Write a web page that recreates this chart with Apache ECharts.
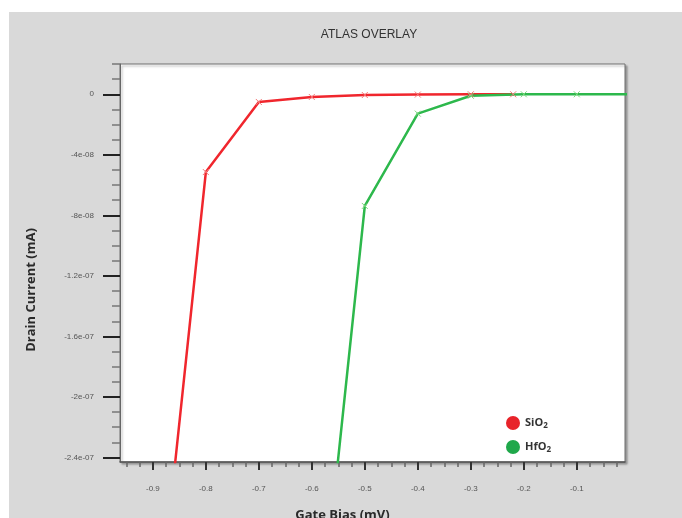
<!DOCTYPE html>
<html>
<head>
<meta charset="utf-8">
<script src="https://cdn.jsdelivr.net/npm/echarts@6/dist/echarts.min.js"></script>
<style>
  body { margin: 0; background: #fff; }
  #panel { position: absolute; left: 9px; top: 12px; right: 0; bottom: 0; background: #d9d9d9; }
  #chart { position: absolute; left: 0; top: 0; width: 682px; height: 518px; }
</style>
</head>
<body>
<div id="panel"></div>
<div id="chart"></div>
<script>
// gate bias (V) / drain current readings
const sio2Bias = [-0.9, -0.8, -0.7, -0.6, -0.5, -0.4, -0.3, -0.22]
const sio2Current = [-3.83e-7, -5.14e-8, -5.1e-9, -1.8e-9, -0.5e-9, -0.2e-9, 0, 0]
const hfo2Bias = [-0.6, -0.5, -0.4, -0.3, -0.2, -0.1, 0]
const hfo2Current = [-4.06e-7, -7.38e-8, -1.28e-8, -1.0e-9, 0, 0, 0]

// axis ticks
const xTickValues = [-0.9, -0.8, -0.7, -0.6, -0.5, -0.4, -0.3, -0.2, -0.1]
const xTickLabels = ['-0.9', '-0.8', '-0.7', '-0.6', '-0.5', '-0.4', '-0.3', '-0.2', '-0.1']
const yTickValues = [0, -4e-8, -8e-8, -1.2e-7, -1.6e-7, -2e-7, -2.4e-7]
const yTickLabels = ['0', '-4e-08', '-8e-08', '-1.2e-07', '-1.6e-07', '-2e-07', '-2.4e-07']

const X_MIN = -0.962, X_MAX = -0.009
const Y_MIN = -2.43e-7, Y_MAX = 2e-8

// minor ticks: every 0.025 on x, every 1e-8 on y
const xMinor = []
for (let i = -38; i <= 0; i++) xMinor.push(+(i * 0.025).toFixed(3))
const yMinor = []
for (let i = -24; i <= 2; i++) yMinor.push(i * 1e-8)

const labelFont = { fontFamily: 'Liberation Sans', fontSize: 8, color: '#555' }
const crossSymbol = 'path://M0,0L10,10M10,0L0,10'

const chart = echarts.init(document.getElementById('chart'))
chart.setOption({
  backgroundColor: 'transparent',
  animation: false,
  title: {
    text: 'ATLAS OVERLAY',
    left: 364,
    top: 24,
    textAlign: 'center',
    textStyle: { fontFamily: 'Liberation Sans', fontSize: 12, fontWeight: 'normal', color: '#333' }
  },
  legend: {
    orient: 'vertical',
    left: 501,
    top: 411,
    icon: 'circle',
    itemWidth: 14,
    itemHeight: 14,
    itemGap: 10,
    formatter: (name) => name.replace('2', '{sub|2}'),
    textStyle: {
      fontFamily: 'Open Sans',
      fontSize: 11,
      fontWeight: 'bold',
      color: '#333',
      rich: {
        sub: { fontFamily: 'Open Sans', fontSize: 8, fontWeight: 'bold', color: '#333', padding: [5, 0, 0, 0] }
      }
    },
    data: [
      { name: 'SiO2', itemStyle: { color: '#e8232a', borderWidth: 0 } },
      { name: 'HfO2', itemStyle: { color: '#1fa84a', borderWidth: 0 } }
    ]
  },
  grid: {
    left: 120,
    right: 57,
    top: 64,
    bottom: 56,
    outerBoundsMode: 'none',
    show: true,
    backgroundColor: '#fff',
    borderColor: '#6e6e6e',
    borderWidth: 1,
    shadowColor: 'rgba(0, 0, 0, 0.3)',
    shadowOffsetX: 2,
    shadowOffsetY: 2,
    shadowBlur: 2
  },
  xAxis: [
    {
      type: 'value',
      min: X_MIN,
      max: X_MAX,
      name: 'Gate Bias (mV)',
      nameLocation: 'middle',
      nameGap: 47,
      nameTextStyle: { fontFamily: 'Open Sans', fontSize: 13, fontWeight: 'bold', color: '#2a2a2a', padding: [0, 60, 0, 0] },
      axisLine: { onZero: false, lineStyle: { color: '#555', width: 1.5 } },
      axisTick: { customValues: xMinor, length: 5, lineStyle: { color: '#666', width: 1.5 } },
      axisLabel: { show: false },
      splitLine: { show: false }
    },
    {
      type: 'value',
      position: 'bottom',
      min: X_MIN,
      max: X_MAX,
      axisLine: { show: false, onZero: false },
      axisTick: { customValues: xTickValues, length: 8, lineStyle: { color: '#333', width: 2 } },
      axisLabel: {
        customValues: xTickValues,
        margin: 23,
        ...labelFont,
        formatter: (v) => xTickLabels[xTickValues.findIndex((t) => Math.abs(t - v) < 1e-6)]
      },
      splitLine: { show: false }
    }
  ],
  yAxis: [
    {
      type: 'value',
      min: Y_MIN,
      max: Y_MAX,
      name: 'Drain Current (mA)',
      nameLocation: 'middle',
      nameRotate: 90,
      nameGap: 82,
      nameTextStyle: { fontFamily: 'Open Sans', fontSize: 13, fontWeight: 'bold', color: '#2a2a2a', padding: [0, 54, 0, 0] },
      axisLine: { onZero: false, lineStyle: { color: '#666', width: 1 } },
      axisTick: { customValues: yMinor, length: 8, lineStyle: { color: '#777', width: 1.5 } },
      axisLabel: { show: false },
      splitLine: { show: false }
    },
    {
      type: 'value',
      position: 'left',
      min: Y_MIN,
      max: Y_MAX,
      axisLine: { show: false, onZero: false },
      axisTick: { customValues: yTickValues, length: 17, lineStyle: { color: '#222', width: 2 } },
      axisLabel: {
        customValues: yTickValues,
        margin: 26,
        ...labelFont,
        formatter: (v) => yTickLabels[yTickValues.findIndex((t) => Math.abs(t - v) < 1e-12)]
      },
      splitLine: { show: false }
    }
  ],
  series: [
    {
      name: 'SiO2',
      type: 'line',
      data: sio2Bias.map((x, i) => [x, sio2Current[i]]),
      symbol: crossSymbol,
      symbolSize: 6,
      showAllSymbol: true,
      itemStyle: { color: '#f47a7a', borderColor: '#f47a7a', borderWidth: 1 },
      lineStyle: { color: '#f0262d', width: 2.5 },
      clip: true
    },
    {
      name: 'HfO2',
      type: 'line',
      data: hfo2Bias.map((x, i) => [x, hfo2Current[i]]),
      symbol: crossSymbol,
      symbolSize: 6,
      showAllSymbol: true,
      itemStyle: { color: '#7fd97f', borderColor: '#7fd97f', borderWidth: 1 },
      lineStyle: { color: '#2db84c', width: 2.5 },
      clip: true
    }
  ]
})
</script>
</body>
</html>
